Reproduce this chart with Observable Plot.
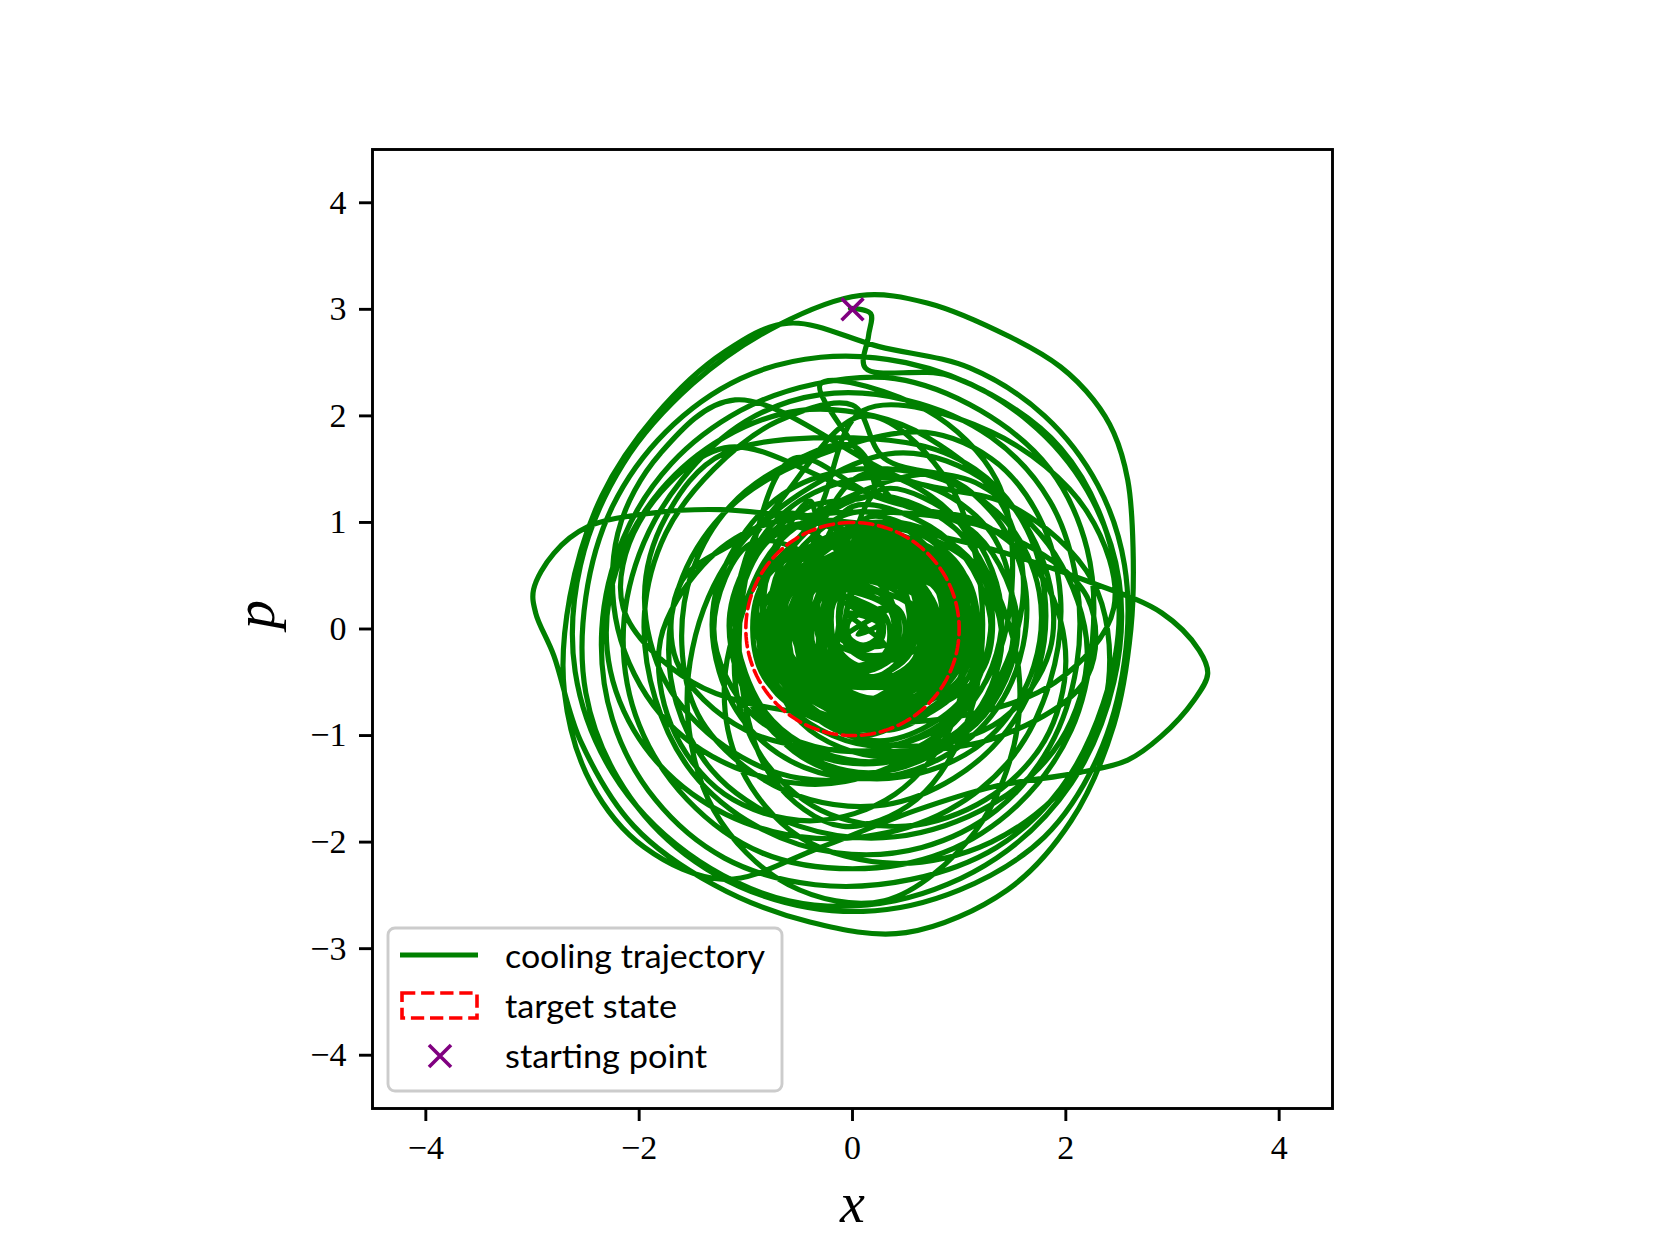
<!DOCTYPE html>
<html><head><meta charset="utf-8">
<script src="https://cdn.jsdelivr.net/npm/d3@7"></script>
<script src="https://cdn.jsdelivr.net/npm/@observablehq/plot@0.6"></script>
<style>
html,body{margin:0;padding:0;background:#fff;}
#wrap{position:relative;width:1660px;height:1245px;overflow:hidden;}
#legend{position:absolute;left:0;top:0;pointer-events:none;}
</style></head><body><div id="wrap"></div>
<script>
// ---- data ----
const xTicks = [-4, -2, 0, 2, 4];
const pTicks = [-4, -3, -2, -1, 0, 1, 2, 3, 4];
const startPoint = [0, 3];
const targetCenter = [0, 0];
const targetRadius = 1;
const legendLabels = ["cooling trajectory", "target state", "starting point"];

// outer part of the trajectory (x, p), clockwise loops
const loopsOuter = [
[-0.02,3.01],[0.17,2.96],[0.15,2.75],[0.12,2.45],
[0.9,2.38],[1.65,1.95],[2.2,1.3],[2.5,0.45],[2.45,-0.5],[2.05,-1.45],[1.35,-2.15],[0.4,-2.55],[-0.6,-2.55],[-1.55,-2.1],[-2.25,-1.35],[-2.6,-0.4],[-2.55,0.6],[-2.15,1.55],[-1.5,2.3],[-0.7,2.85],
[0.07,3.13],[0.7,3.06],[1.48,2.74],[1.95,2.46],[2.26,2.15],[2.45,1.84],[2.58,1.4],[2.63,0.77],[2.61,0.0],[2.45,-0.9],[2.05,-1.8],[1.45,-2.45],[0.5,-2.85],[-0.4,-2.75],[-1.3,-2.4],[-2.05,-1.85],[-2.55,-1.05],[-2.8,-0.25],
[-2.97,0.15],[-2.99,0.37],[-2.8,0.71],[-2.48,0.96],[-1.86,1.09],[-1.24,1.12],[-0.5,1.05],[0.4,0.95],[1.3,0.75],[2.2,0.45],[2.9,0.15],[3.25,-0.2],[3.33,-0.42],[3.2,-0.67],[2.89,-1.01],[2.58,-1.23],[2.11,-1.35],[1.32,-1.48],[0.6,-1.7],[-0.3,-2.05],[-1.2,-2.35],[-1.95,-2.05],[-2.45,-1.45],[-2.7,-0.6],
[-2.65,0.3],[-2.35,1.25],[-1.85,2.0],[-1.2,2.6],[-0.6,2.87],[0.25,2.65],
[1.1,2.45],[1.8,2.0],[2.3,1.35],[2.55,0.6],[2.55,-0.3],[2.3,-1.2],[1.8,-1.95],[1.0,-2.45],[0.1,-2.65],[-0.85,-2.5],[-1.65,-2.05],[-2.2,-1.4],[-2.5,-0.6],[-2.5,0.3],[-2.25,1.15],[-1.75,1.85],[-1.05,2.35],[-0.3,2.55],
[0.5,2.5],[1.3,2.2],[1.95,1.7],[2.35,1.0],[2.5,0.15],[2.35,-0.7],[1.95,-1.5],[1.35,-2.05],[0.55,-2.35],[-0.35,-2.4],[-1.2,-2.15],[-1.85,-1.6],[-2.25,-0.85],[-2.35,0.0],[-2.15,0.85],[-1.7,1.55],[-1.05,2.05],[-0.35,2.3],
[0.4,2.35],[1.2,2.05],[1.85,1.5],[2.2,0.75],[2.25,-0.1],[2.05,-0.95],[1.55,-1.65],[0.85,-2.1],[0.0,-2.25],[-0.85,-2.1],[-1.55,-1.6],[-2.0,-0.9],[-2.15,-0.1],[-2.0,0.7],[-1.6,1.4],[-1.0,1.95],[-0.3,2.2],
[0.5,2.15],[1.3,1.8],[1.85,1.2],[2.1,0.45],[2.1,-0.35],[1.85,-1.1],[1.35,-1.7],[0.65,-2.05],[-0.15,-2.1],[-0.9,-1.85],[-1.5,-1.35],[-1.85,-0.65],[-1.95,0.15],[-1.75,0.9],[-1.3,1.5],[-0.7,1.95],[0.0,2.1],
[0.3,1.6],[1.2,1.35],[1.9,0.7],[2.2,-0.2],[1.95,-1.05],[1.3,-1.65],[0.4,-1.95],[-0.5,-1.85],[-1.25,-1.4],[-1.65,-0.7],[-1.7,0.1],[-1.4,0.85],[-0.8,1.4],
[0.6,1.85],[1.3,1.6],[1.75,1.05],[1.95,0.3],[1.85,-0.5],[1.5,-1.2],[0.9,-1.7],[0.1,-1.95],[-0.75,-1.9],[-1.5,-1.55],[-2.05,-0.95],[-2.3,-0.2],[-2.2,0.6],[-1.8,1.3],[-1.2,1.8],[-0.5,2.05],[0.2,2.0],
[0.7,1.8],[1.35,1.25],[1.6,0.5],[1.45,-0.3],[1.0,-0.95],[0.3,-1.35],[-0.5,-1.4],[-1.2,-1.1],[-1.75,-0.5],[-1.95,0.3],[-1.75,1.05],[-1.2,1.65],
[0.5,1.75],[1.15,1.5],[1.6,1.0],[1.8,0.35],[1.75,-0.35],[1.45,-0.95],[0.95,-1.4],[0.3,-1.65],[-0.4,-1.6],[-1.0,-1.3],[-1.45,-0.8],[-1.6,-0.15],[-1.5,0.55],[-1.15,1.15],[-0.6,1.55],[0.0,1.72],
[0.4,1.2],[1.2,1.0],[1.8,0.45],[2.0,-0.3],[1.8,-1.05],[1.25,-1.6],[0.5,-1.85],[-0.3,-1.7],[-0.85,-1.2],[-1.1,-0.5],[-1.0,0.25],[-0.6,0.9],
[0.75,1.45],[1.3,1.1],[1.6,0.5],[1.6,-0.15],[1.35,-0.75],[0.85,-1.2],[0.2,-1.4],[-0.45,-1.3],[-0.95,-0.95],[-1.25,-0.4],[-1.3,0.25],[-1.05,0.85],[-0.6,1.3],[0.05,1.5],
[0.85,1.4],[1.45,1.0],[1.75,0.35],[1.7,-0.35],[1.35,-0.95],[0.8,-1.3],[0.1,-1.4],[-0.55,-1.15],[-0.95,-0.6],[-1.1,0.05],[-0.95,0.7],[-0.5,1.2],[0.15,1.42],
[0.8,1.3],[1.3,0.9],[1.5,0.3],[1.45,-0.35],[1.1,-0.9],[0.55,-1.2],[-0.1,-1.25],[-0.7,-1.0],[-1.05,-0.5],[-1.15,0.15],[-0.9,0.75],[-0.4,1.15],[0.2,1.3]
];

// middle part: off-centre, tilted loops that cross each other (x, p)
const loopsMiddle = [
[-0.3,2.3],[0.7,2.05],[1.35,1.4],[1.5,0.5],[1.3,-0.4],[0.7,-1.1],[-0.2,-1.45],[-1.1,-1.3],[-1.8,-0.8],[-2.2,0.0],[-2.2,0.9],[-1.8,1.65],[-1.1,2.15],
[0.5,1.4],[1.5,1.15],[2.25,0.45],[2.4,-0.5],[2.05,-1.4],[1.3,-2.0],[0.4,-2.2],[-0.5,-1.95],[-1.05,-1.3],[-1.2,-0.5],[-0.95,0.35],[-0.35,1.05],
[0.1,2.05],[1.3,1.85],[2.2,1.1],[2.45,0.2],[1.9,-0.5],[0.8,-0.85],[-0.4,-0.8],[-1.5,-0.5],[-2.15,0.2],[-2.0,1.0],[-1.2,1.7],
[-0.1,1.35],[0.9,1.0],[1.45,0.1],[1.55,-0.9],[1.15,-1.9],[0.3,-2.55],[-0.6,-2.4],[-1.3,-1.7],[-1.55,-0.7],[-1.35,0.3],[-0.85,1.0],
[0.4,1.65],[1.3,1.35],[1.8,0.6],[1.85,-0.2],[1.4,-0.85],[0.6,-1.1],[-0.25,-0.9],[-0.75,-0.3],[-0.8,0.5],[-0.4,1.2],
[-0.3,1.0],[0.55,0.75],[1.0,0.0],[0.95,-0.85],[0.4,-1.55],[-0.4,-1.8],[-1.2,-1.55],[-1.7,-0.9],[-1.8,-0.1],[-1.4,0.6],[-0.9,0.95],
[0.2,1.1],[1.4,0.9],[2.2,0.3],[2.2,-0.45],[1.4,-1.0],[0.2,-1.15],[-1.0,-0.95],[-1.65,-0.3],[-1.6,0.45],[-0.9,0.95],
[0.1,2.0],[0.85,1.45],[1.2,0.4],[1.1,-0.8],[0.6,-1.6],[-0.1,-1.85],[-0.75,-1.4],[-1.05,-0.4],[-0.95,0.7],[-0.55,1.6]
];

// inner (cooled) part of the trajectory (x, p)
const loopsInner = [
[0.2,1.25],[1.16,0.89],[1.55,0],[1.16,-0.89],[0.2,-1.25],[-0.76,-0.89],[-1.15,0],[-0.76,0.89],
[0.15,0.95],[0.98,0.5],[0.98,-0.4],[0.15,-0.85],[-0.68,-0.4],[-0.68,0.5],
[0.1,0.95],[0.8,0.48],[0.8,-0.48],[0.1,-0.95],[-0.6,-0.48],[-0.6,0.48],
[0.25,0.7],[1.03,0.33],[1.03,-0.43],[0.25,-0.8],[-0.53,-0.43],[-0.53,0.33],
[0.1,1.45],[0.95,1.06],[1.3,0.1],[0.95,-0.86],[0.1,-1.25],[-0.75,-0.86],[-1.1,0.1],[-0.75,1.06],
[0,0.9],[0.61,0.5],[0.61,-0.3],[0,-0.7],[-0.61,-0.3],[-0.61,0.5],
[0.2,0.65],[0.72,0.33],[0.72,-0.33],[0.2,-0.65],[-0.32,-0.33],[-0.32,0.33],
[0.1,0.75],[0.97,0.33],[0.97,-0.53],[0.1,-0.95],[-0.77,-0.53],[-0.77,0.33],
[0.3,0.7],[0.78,0.4],[0.78,-0.2],[0.3,-0.5],[-0.18,-0.2],[-0.18,0.4],
[0.05,0.7],[0.7,0.35],[0.7,-0.35],[0.05,-0.7],[-0.6,-0.35],[-0.6,0.35],
[0.3,1.0],[1.08,0.68],[1.4,-0.1],[1.08,-0.88],[0.3,-1.2],[-0.48,-0.88],[-0.8,-0.1],[-0.48,0.68],
[0.3,1.0],[1.04,0.53],[1.04,-0.43],[0.3,-0.9],[-0.44,-0.43],[-0.44,0.53],
[0.1,0.6],[0.49,0.35],[0.49,-0.15],[0.1,-0.4],[-0.29,-0.15],[-0.29,0.35],
[0.2,0.5],[0.77,0.2],[0.77,-0.4],[0.2,-0.7],[-0.37,-0.4],[-0.37,0.2],
[0.15,0.85],[0.93,0.45],[0.93,-0.35],[0.15,-0.75],[-0.63,-0.35],[-0.63,0.45],
[0.1,0.4],[0.4,0.2],[0.4,-0.2],[0.1,-0.4],[-0.2,-0.2],[-0.2,0.2],
[0.25,0.9],[0.86,0.48],[0.86,-0.38],[0.25,-0.8],[-0.36,-0.38],[-0.36,0.48],
[0,1.15],[0.92,0.82],[1.3,0],[0.92,-0.82],[0,-1.15],[-0.92,-0.82],[-1.3,0],[-0.92,0.82],
[0.15,0.4],[0.58,0.18],[0.58,-0.28],[0.15,-0.5],[-0.28,-0.28],[-0.28,0.18],
[0.05,1.0],[0.75,0.55],[0.75,-0.35],[0.05,-0.8],[-0.65,-0.35],[-0.65,0.55],
[0.2,0.3],[0.46,0.15],[0.46,-0.15],[0.2,-0.3],[-0.06,-0.15],[-0.06,0.15],
[0.15,0.7],[0.67,0.35],[0.67,-0.35],[0.15,-0.7],[-0.37,-0.35],[-0.37,0.35],
[0.3,0.5],[0.69,0.3],[0.69,-0.1],[0.3,-0.3],[-0.09,-0.1],[-0.09,0.3],
[0.1,0.25],[0.32,0.1],[0.32,-0.2],[0.1,-0.35],[-0.12,-0.2],[-0.12,0.1],
[0.25,1.3],[1.07,0.95],[1.4,0.1],[1.07,-0.75],[0.25,-1.1],[-0.57,-0.75],[-0.9,0.1],[-0.57,0.95],
[0,0.65],[0.74,0.28],[0.74,-0.48],[0,-0.85],[-0.74,-0.48],[-0.74,0.28],
[0.35,0.85],[0.96,0.5],[0.96,-0.2],[0.35,-0.55],[-0.26,-0.2],[-0.26,0.5],
[0.1,0.8],[0.58,0.4],[0.58,-0.4],[0.1,-0.8],[-0.38,-0.4],[-0.38,0.4],
[0.2,0.55],[0.9,0.3],[0.9,-0.2],[0.2,-0.45],[-0.5,-0.2],[-0.5,0.3],
[-0.05,0.65],[0.47,0.35],[0.47,-0.25],[-0.05,-0.55],[-0.57,-0.25],[-0.57,0.35],
[0.25,0.45],[0.77,0.15],[0.77,-0.45],[0.25,-0.75],[-0.27,-0.45],[-0.27,0.15],
[0.15,1.05],[0.98,0.58],[0.98,-0.38],[0.15,-0.85],[-0.68,-0.38],[-0.68,0.58],
[0.15,1.25],[1.04,0.87],[1.4,-0.05],[1.04,-0.97],[0.15,-1.35],[-0.74,-0.97],[-1.1,-0.05],[-0.74,0.87],
[0.2,0.95],[1.07,0.48],[1.07,-0.48],[0.2,-0.95],[-0.67,-0.48],[-0.67,0.48],
[0.05,1.1],[0.83,0.6],[0.83,-0.4],[0.05,-0.9],[-0.73,-0.4],[-0.73,0.6],
[0.35,0.75],[1.09,0.35],[1.09,-0.45],[0.35,-0.85],[-0.39,-0.45],[-0.39,0.35],
[0.1,0.7],[0.75,0.28],[0.75,-0.58],[0.1,-1.0],[-0.55,-0.58],[-0.55,0.28],
[0.25,0.9],[0.95,0.55],[0.95,-0.15],[0.25,-0.5],[-0.45,-0.15],[-0.45,0.55],
[0,0.9],[0.83,0.45],[0.83,-0.45],[0,-0.9],[-0.83,-0.45],[-0.83,0.45],
[0.3,0.95],[1.21,0.5],[1.21,-0.4],[0.3,-0.85],[-0.61,-0.4],[-0.61,0.5],
[0.15,0.9],[0.63,0.45],[0.63,-0.45],[0.15,-0.9],[-0.33,-0.45],[-0.33,0.45],
[0.15,0.6],[0.98,0.33],[0.98,-0.23],[0.15,-0.5],[-0.68,-0.23],[-0.68,0.33],
[0.05,0.6],[0.62,0.28],[0.62,-0.38],[0.05,-0.7],[-0.52,-0.38],[-0.52,0.28],
[0.2,0.65],[0.55,0.38],[0.55,-0.18],[0.2,-0.45],[-0.15,-0.18],[-0.15,0.38],
[0.25,0.85],[1.08,0.38],[1.08,-0.58],[0.25,-1.05],[-0.58,-0.58],[-0.58,0.38],
[0.1,0.65],[0.8,0.35],[0.8,-0.25],[0.1,-0.55],[-0.6,-0.25],[-0.6,0.35],
[0.15,0.45],[0.54,0.23],[0.54,-0.23],[0.15,-0.45],[-0.24,-0.23],[-0.24,0.23],
[0.2,0.8],[0.81,0.43],[0.81,-0.33],[0.2,-0.7],[-0.41,-0.33],[-0.41,0.43],
[0.1,0.2],[0.27,0.1],[0.27,-0.1],[0.1,-0.2],[-0.07,-0.1],[-0.07,0.1],
[0.2,0.65],[0.85,0.33],[0.85,-0.33],[0.2,-0.65],[-0.45,-0.33],[-0.45,0.33],
[0.05,0.6],[0.49,0.33],[0.49,-0.23],[0.05,-0.5],[-0.39,-0.23],[-0.39,0.33],
[0.3,0.85],[1.0,0.4],[1.0,-0.5],[0.3,-0.95],[-0.4,-0.5],[-0.4,0.4],
[0,0.35],[0.35,0.18],[0.35,-0.18],[0,-0.35],[-0.35,-0.18],[-0.35,0.18],
[0.2,0.85],[0.77,0.48],[0.77,-0.28],[0.2,-0.65],[-0.37,-0.28],[-0.37,0.48],
[0.15,0.65],[0.93,0.3],[0.93,-0.4],[0.15,-0.75],[-0.63,-0.4],[-0.63,0.3],
[0.1,0.5],[0.36,0.28],[0.36,-0.18],[0.1,-0.4],[-0.16,-0.18],[-0.16,0.28],
[0.25,0.55],[0.73,0.28],[0.73,-0.28],[0.25,-0.55],[-0.23,-0.28],[-0.23,0.28],
[0.05,0.75],[0.66,0.35],[0.66,-0.45],[0.05,-0.85],[-0.56,-0.45],[-0.56,0.35],
[0.2,0.35],[0.59,0.2],[0.59,-0.1],[0.2,-0.25],[-0.19,-0.1],[-0.19,0.2],
[0.15,0.85],[0.89,0.43],[0.89,-0.43],[0.15,-0.85],[-0.59,-0.43],[-0.59,0.43],
[0.1,0.15],[0.23,0.08],[0.23,-0.08],[0.1,-0.15],[-0.03,-0.08],[-0.03,0.08],
[0.35,0.2],[-0.1,-0.1],[0.3,-0.15],[-0.05,0.15],[0.25,0.05],[0.05,-0.05],[0.12,0.02]
];

const trajectory = [...loopsOuter, ...loopsMiddle, ...loopsInner].map(([x, p]) => ({x, p}));

// dashed target circle (centre + radius)
const circle = d3.range(90, 451, 2).map(a => ({
  x: targetCenter[0] + targetRadius * Math.cos(a * Math.PI / 180),
  p: targetCenter[1] + targetRadius * Math.sin(a * Math.PI / 180)
}));

const fmt = d => (d < 0 ? "\u2212" + Math.abs(d) : String(d));
const serif = "'Liberation Serif', 'DejaVu Serif', serif";

const chart = Plot.plot({
  width: 1660, height: 1245,
  marginLeft: 372, marginRight: 328, marginTop: 149, marginBottom: 137,
  x: {domain: [-4.5, 4.5]},
  y: {domain: [-4.5, 4.5]},
  style: {fontFamily: serif, fontSize: "34px", background: "white", color: "black", overflow: "visible"},
  marks: [
    Plot.line(trajectory, {x: "x", y: "p", stroke: "#008000", strokeWidth: 5.2, curve: "catmull-rom", strokeLinejoin: "round"}),
    Plot.line(circle, {x: "x", y: "p", stroke: "#ff0000", strokeWidth: 3.6, strokeDasharray: "13.3,5.8"}),
    Plot.dot([startPoint], {x: d => d[0], y: d => d[1], symbol: "times", r: 10, stroke: "#800080", strokeWidth: 3.6}),
    Plot.frame({stroke: "black", strokeWidth: 2.9}),
    Plot.axisX({ticks: xTicks, tickFormat: fmt, tickSize: 13, tickPadding: 13, strokeWidth: 2.9, fontSize: 34, label: null}),
    Plot.axisY({ticks: pTicks, tickFormat: fmt, tickSize: 13, tickPadding: 13, strokeWidth: 2.9, fontSize: 34, label: null}),
    Plot.text(["x"], {text: d => d, frameAnchor: "bottom", dy: 113, fontSize: 56, fontStyle: "italic", fontFamily: serif}),
    Plot.text(["p"], {text: d => d, frameAnchor: "left", dx: -117, rotate: -90, fontSize: 58, fontStyle: "italic", fontFamily: serif})
  ]
});

const wrap = document.getElementById("wrap");
wrap.appendChild(chart);

// legend (inside the axes, lower-left)
const lg = d3.select(wrap).append("svg").attr("id", "legend").attr("width", 1660).attr("height", 1245);
lg.append("rect").attr("x", 388).attr("y", 928).attr("width", 394).attr("height", 163).attr("rx", 7)
  .attr("fill", "white").attr("fill-opacity", 0.8).attr("stroke", "#cccccc").attr("stroke-width", 2.9);
lg.append("line").attr("x1", 400).attr("x2", 478).attr("y1", 955).attr("y2", 955)
  .attr("stroke", "#008000").attr("stroke-width", 5.2);
lg.append("rect").attr("x", 402).attr("y", 993).attr("width", 75).attr("height", 25)
  .attr("fill", "none").attr("stroke", "#ff0000").attr("stroke-width", 3.6).attr("stroke-dasharray", "13.3,5.8");
lg.append("path").attr("d", "M429,1045L451,1067M429,1067L451,1045").attr("stroke", "#800080").attr("stroke-width", 3.6);
const legendY = [968, 1018, 1068];
const legendW = [260, 172, 202];
legendLabels.forEach((t, i) => {
  lg.append("text").attr("x", 505).attr("y", legendY[i]).attr("font-family", "Lato, 'Open Sans', sans-serif")
    .attr("font-size", 33).attr("textLength", legendW[i]).attr("lengthAdjust", "spacingAndGlyphs")
    .attr("fill", "black").text(t);
});
</script>
</body></html>
